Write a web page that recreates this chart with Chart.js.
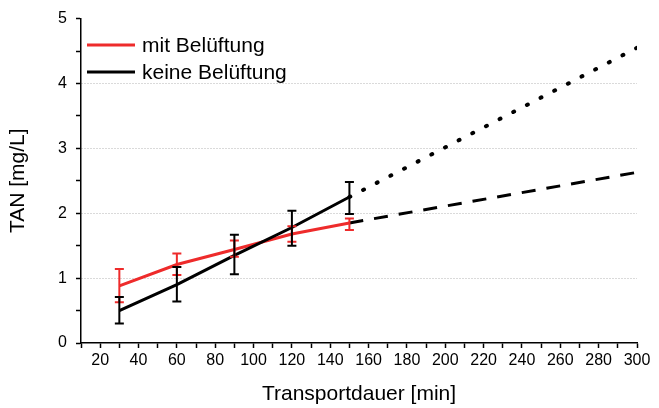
<!DOCTYPE html>
<html>
<head>
<meta charset="utf-8">
<script src="https://cdn.jsdelivr.net/npm/chart.js@4/dist/chart.umd.min.js"></script>
<style>
  html, body { margin: 0; padding: 0; background: #fff; }
  canvas { display: block; }
</style>
</head>
<body>
<canvas id="c" width="659" height="408"></canvas>
<script>
// ---- data ----
const times = [30, 60, 90, 120, 150];
const mitMean = [0.88, 1.21, 1.44, 1.68, 1.85];
const mitLow  = [0.63, 1.05, 1.33, 1.56, 1.74];
const mitHigh = [1.14, 1.38, 1.58, 1.80, 1.92];
const keineMean = [0.50, 0.90, 1.35, 1.78, 2.25];
const keineLow  = [0.30, 0.64, 1.06, 1.50, 1.99];
const keineHigh = [0.71, 1.17, 1.67, 2.04, 2.48];
const extrapTimes = [150, 300];
const mitExtrap = [1.85, 2.63];
const keineExtrap = [2.25, 4.55];
const seriesLabels = ['mit Belüftung', 'keine Belüftung'];
const xTitle = 'Transportdauer [min]';
const yTitle = 'TAN [mg/L]';

const RED = '#ee2b2b';
const BLACK = '#000000';
const FONT = "'Liberation Sans', Arial, sans-serif";

const pts = (xs, ys) => xs.map((x, i) => ({x: x, y: ys[i]}));

// dotted pattern that always ends on a dot at both segment ends
const dotDash = (c) => {
  const len = Math.hypot(c.p1.x - c.p0.x, c.p1.y - c.p0.y) - 1;
  const n = Math.max(1, Math.round(len / 15.5));
  return [1, len / n - 1];
};

const errorBarPlugin = {
  id: 'errorBars',
  afterDatasetsDraw(chart) {
    const {ctx, scales: {x, y}} = chart;
    chart.data.datasets.forEach((ds) => {
      if (!ds.errLow) return;
      ctx.save();
      ctx.strokeStyle = ds.borderColor;
      ctx.lineWidth = 2;
      ds.data.forEach((p, i) => {
        const px = x.getPixelForValue(p.x);
        const lo = y.getPixelForValue(ds.errLow[i]);
        const hi = y.getPixelForValue(ds.errHigh[i]);
        ctx.beginPath();
        ctx.moveTo(px, lo); ctx.lineTo(px, hi);
        ctx.moveTo(px - 4.5, lo); ctx.lineTo(px + 4.5, lo);
        ctx.moveTo(px - 4.5, hi); ctx.lineTo(px + 4.5, hi);
        ctx.stroke();
      });
      ctx.restore();
    });
  }
};

const legendPlugin = {
  id: 'customLegend',
  afterDraw(chart) {
    const ctx = chart.ctx;
    const items = chart.data.datasets.filter(d => d.inLegend);
    ctx.save();
    ctx.font = '21px ' + FONT;
    ctx.textBaseline = 'middle';
    items.forEach((d, i) => {
      const yy = 45 + i * 27;
      ctx.strokeStyle = d.borderColor;
      ctx.lineWidth = 3;
      ctx.beginPath();
      ctx.moveTo(87, yy); ctx.lineTo(135, yy);
      ctx.stroke();
      ctx.fillStyle = '#000';
      ctx.fillText(d.label, 142, yy + 1);
    });
    ctx.restore();
  }
};

new Chart(document.getElementById('c'), {
  type: 'line',
  data: {
    datasets: [
      { label: seriesLabels[0], data: pts(times, mitMean), errLow: mitLow, errHigh: mitHigh,
        borderColor: RED, borderWidth: 3, pointRadius: 0, inLegend: true, order: 2 },
      { label: seriesLabels[1], data: pts(times, keineMean), errLow: keineLow, errHigh: keineHigh,
        borderColor: BLACK, borderWidth: 3, pointRadius: 0, inLegend: true, order: 1 },
      { label: 'mit (Extrapolation)', data: pts(extrapTimes, mitExtrap),
        borderColor: BLACK, borderWidth: 3, borderDash: [14, 11], pointRadius: 0 },
      { label: 'keine (Extrapolation)', data: pts(extrapTimes, keineExtrap),
        borderColor: BLACK, borderWidth: 4, borderCapStyle: 'round', pointRadius: 0,
        borderDash: [1, 14.5],
        segment: { borderDash: dotDash } }
    ]
  },
  options: {
    responsive: false,
    devicePixelRatio: 1,
    animation: false,
    layout: { padding: { top: 17, right: 22, left: 0, bottom: 0 } },
    plugins: { legend: { display: false }, tooltip: { enabled: false } },
    scales: {
      x: {
        type: 'linear', min: 10, max: 300,
        afterFit(s) { s.height = 65; },
        ticks: {
          stepSize: 10, autoSkip: false, maxRotation: 0, color: '#000',
          font: { family: FONT, size: 16 }, padding: 3,
          callback: (v) => (v % 20 === 0 ? String(v) : '')
        },
        grid: { drawOnChartArea: false, drawTicks: true, tickLength: 5, tickColor: '#000', tickWidth: 1.5 },
        border: { color: '#000', width: 1.5 },
        title: { display: true, text: xTitle, color: '#000', font: { family: FONT, size: 21, lineHeight: 1 }, padding: { top: 0, bottom: 3 } }
      },
      y: {
        min: 0, max: 5,
        afterFit(s) { s.width = 81; },
        ticks: {
          stepSize: 0.5, autoSkip: false, color: '#000',
          font: { family: FONT, size: 16 }, padding: 9,
          callback: (v) => (Number.isInteger(v) ? String(v) : '')
        },
        grid: {
          drawTicks: true, tickLength: 5, tickColor: '#000', tickWidth: 1.5, tickBorderDash: [],
          lineWidth: 1,
          color: (c) => (c.tick && c.tick.value >= 1 && c.tick.value <= 4 && Number.isInteger(c.tick.value)) ? '#b5b5b5' : 'rgba(0,0,0,0)'
        },
        border: { color: '#000', width: 1.5, dash: [1, 2] },
        title: { display: true, text: yTitle, color: '#000', font: { family: FONT, size: 21, lineHeight: 1 }, padding: { top: 8, bottom: 0 } }
      }
    }
  },
  plugins: [errorBarPlugin, legendPlugin]
});
</script>
</body>
</html>
